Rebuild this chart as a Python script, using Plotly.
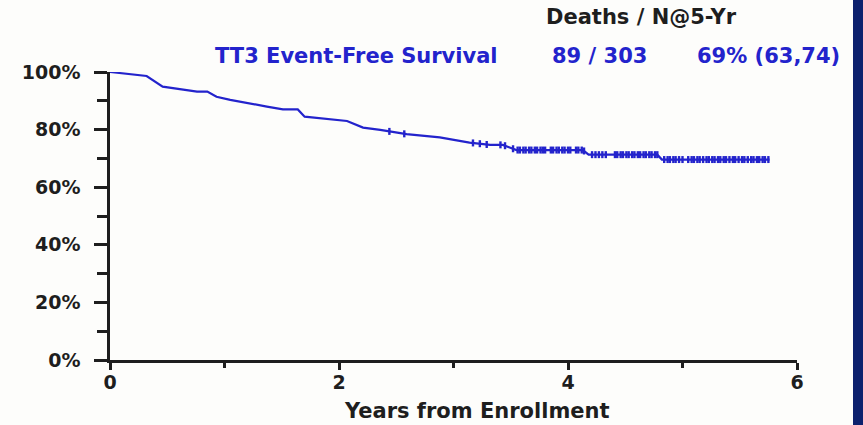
import numpy as np
import plotly.graph_objects as go

# Kaplan-Meier estimate of event-free survival (years, percent)
years = [0, 0.12, 0.32, 0.46, 0.61, 0.76, 0.85, 0.93, 1.05, 1.19, 1.37, 1.51,
         1.64, 1.70, 1.89, 2.07, 2.21, 2.36, 2.59, 2.88, 3.14, 3.32, 3.43,
         3.55, 4.13, 4.18, 4.78, 4.82, 5.76]
survival = [100, 99.4, 98.6, 94.9, 94.0, 93.2, 93.2, 91.4, 90.3, 89.4, 88.0,
            87.0, 87.0, 84.5, 83.6, 83.0, 80.7, 79.9, 78.4, 77.3, 75.5, 74.7,
            74.7, 72.9, 72.9, 71.3, 71.3, 69.6, 69.6]

# censored follow-up times (years)
censored = [2.44, 2.57, 3.17, 3.23, 3.29, 3.41, 3.45, 3.52,
            3.56, 3.58, 3.61, 3.63, 3.66, 3.68, 3.71, 3.73, 3.76, 3.78, 3.80,
            3.85, 3.87, 3.90, 3.92, 3.95, 3.97, 4.00, 4.02,
            4.07, 4.09, 4.12, 4.14, 4.21, 4.24, 4.27, 4.30, 4.33,
            4.41, 4.43, 4.46, 4.48, 4.51, 4.53, 4.56, 4.58, 4.61, 4.63, 4.66,
            4.68, 4.71, 4.73, 4.76, 4.78,
            4.84, 4.87, 4.89, 4.92, 4.94, 4.97, 5.00, 5.05, 5.08, 5.10, 5.13,
            5.15, 5.18, 5.21, 5.23, 5.26, 5.28, 5.31, 5.33, 5.36, 5.38, 5.41,
            5.44, 5.46, 5.49, 5.52, 5.54, 5.57, 5.60, 5.62, 5.65, 5.67, 5.70,
            5.72, 5.75]

x_ticks = [0, 2, 4, 6]
y_ticks = [0, 20, 40, 60, 80, 100]
y_tick_labels = ["0%", "20%", "40%", "60%", "80%", "100%"]

header = "Deaths / N@5-Yr"
series_name = "TT3 Event-Free Survival"
deaths_n = "89 / 303"
five_year = "69% (63,74)"

BLUE = "#2323cc"
INK = "#1e1e1e"
FONT = "DejaVu Sans"

W, H = 863, 425
L, R, T, B = 110, 66, 72, 65
pw, ph = W - L - R, H - T - B


def px(x):
    return (x - L) / pw


def py(y):
    return (H - B - y) / ph


fig = go.Figure()
fig.add_trace(go.Scatter(
    x=years, y=survival, mode="lines",
    line=dict(color=BLUE, width=2.2),
    cliponaxis=False, hoverinfo="skip", showlegend=False,
))
fig.add_trace(go.Scatter(
    x=censored, y=np.interp(censored, years, survival), mode="markers",
    marker=dict(symbol="line-ns", size=5, line=dict(color=BLUE, width=2.4)),
    cliponaxis=False, hoverinfo="skip", showlegend=False,
))

axis_common = dict(
    showline=True, linecolor=INK, linewidth=2.5, ticks="outside",
    tickcolor=INK, tickwidth=2.5, showgrid=False, zeroline=False,
    tickfont=dict(family=FONT, size=19, color=INK, weight="bold"),
    fixedrange=True,
)

fig.update_xaxes(
    range=[0, 6], tickvals=x_ticks, ticklen=7, ticklabelstandoff=-4,
    minor=dict(dtick=1, tick0=0, ticks="outside", ticklen=5, tickwidth=2.5,
               tickcolor=INK),
    **axis_common,
)
fig.update_yaxes(
    range=[0, 100], tickvals=y_ticks, ticktext=y_tick_labels, ticklen=13,
    ticklabelstandoff=10,
    minor=dict(dtick=10, tick0=0, ticks="outside", ticklen=10, tickwidth=2.5,
               tickcolor=INK),
    **axis_common,
)

annotations = [
    dict(text=header, x=px(641), y=py(17), font=dict(color=INK, size=21)),
    dict(text=series_name, x=px(213), y=py(56), xanchor="left",
         font=dict(color=BLUE, size=21)),
    dict(text=deaths_n, x=px(550), y=py(56), xanchor="left",
         font=dict(color=BLUE, size=21)),
    dict(text=five_year, x=px(695), y=py(56), xanchor="left",
         font=dict(color=BLUE, size=21)),
    dict(text="Years from Enrollment", x=px(477), y=py(411),
         font=dict(color=INK, size=21)),
]
for a in annotations:
    a.setdefault("xanchor", "center")
    a["font"].update(family=FONT, weight="bold")
    fig.add_annotation(xref="paper", yref="paper", yanchor="middle",
                       showarrow=False, **a)

# navy band along the right edge
fig.add_shape(type="rect", xref="paper", yref="paper",
              x0=px(853), x1=px(W + 2), y0=py(H + 2), y1=py(-2),
              fillcolor="#0c216e", line=dict(width=0), layer="above")

fig.update_layout(
    width=W, height=H,
    margin=dict(l=L, r=R, t=T, b=B),
    paper_bgcolor="#fdfdfb", plot_bgcolor="#fdfdfb",
)

fig.write_html("out.html", config={"displayModeBar": False})
